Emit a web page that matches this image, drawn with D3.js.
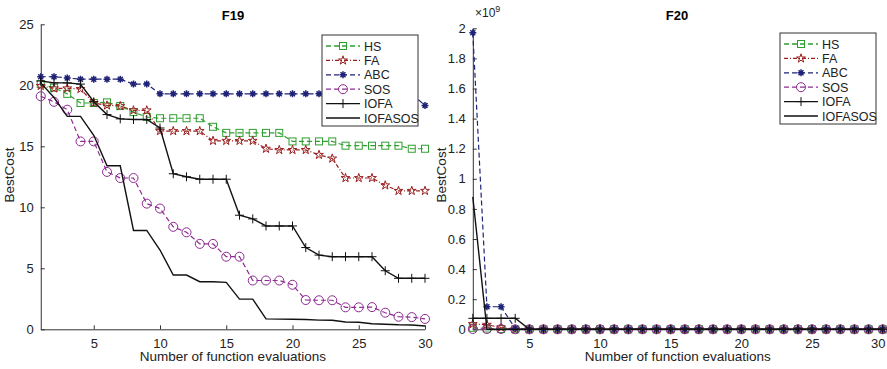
<!DOCTYPE html>
<html lang="en">
<head>
    <meta charset="UTF-8">
    <title>F19 / F20 convergence</title>
    <script src="https://d3js.org/d3.v7.min.js"></script>
    <style>
        body {
            margin: 0;
            background-color: #ffffff;
            font-family: "Liberation Sans", Arial, sans-serif;
        }
        svg {
            display: block;
        }
    </style>
</head>
<body>
    <div id="chart"></div>
    <script>
        const width = 887, height = 369;

        // x values (number of function evaluations)
        const evals = [1, 2, 3, 4, 5, 6, 7, 8, 9, 10, 11, 12, 13, 14, 15, 16, 17, 18, 19, 20, 21, 22, 23, 24, 25, 26, 27, 28, 29, 30];
        const seriesNames = ["HS", "FA", "ABC", "SOS", "IOFA", "IOFASOS"];

        // F19 best cost
        const hsF19 = [20.1, 19.8, 19.3, 18.55, 18.55, 18.6, 18.3, 17.8, 17.4, 17.3, 17.3, 17.3, 17.3, 16.6, 16.1, 16.1, 16.1, 16.1, 16.1, 15.4, 15.4, 15.4, 15.4, 15.05, 15.05, 15.05, 15.05, 15.05, 14.8, 14.8];
        const faF19 = [19.95, 19.75, 19.75, 19.7, 18.55, 18.35, 18.3, 17.95, 17.95, 16.25, 16.25, 16.25, 16.25, 15.45, 15.45, 15.45, 15.45, 14.8, 14.7, 14.7, 14.7, 14.3, 14.0, 12.4, 12.4, 12.4, 11.8, 11.35, 11.35, 11.35];
        const abcF19 = [20.7, 20.7, 20.6, 20.5, 20.5, 20.5, 20.5, 20.1, 20.1, 19.3, 19.3, 19.3, 19.3, 19.3, 19.3, 19.3, 19.3, 19.3, 19.3, 19.3, 19.3, 19.3, 19.3, 19.3, 19.3, 19.3, 19.3, 19.3, 19.3, 18.35];
        const sosF19 = [19.1, 18.65, 18.0, 15.4, 15.4, 12.9, 12.4, 12.4, 10.3, 9.9, 8.4, 7.95, 7.0, 7.0, 5.95, 5.95, 4.0, 4.0, 4.0, 3.65, 2.4, 2.38, 2.38, 1.8, 1.8, 1.82, 1.36, 1.03, 1.0, 0.85];
        const iofaF19 = [20.35, 20.2, 20.2, 20.1, 18.65, 17.6, 17.25, 17.2, 17.2, 16.5, 12.75, 12.5, 12.3, 12.3, 12.3, 9.35, 9.05, 8.47, 8.47, 8.47, 6.7, 6.08, 5.95, 5.95, 5.95, 5.95, 4.8, 4.18, 4.18, 4.18];
        const iofasosF19 = [20.2, 19.0, 17.45, 17.45, 15.9, 13.4, 13.4, 8.1, 8.1, 6.5, 4.45, 4.45, 3.9, 3.9, 3.85, 2.47, 2.47, 0.85, 0.83, 0.82, 0.8, 0.75, 0.74, 0.6, 0.58, 0.46, 0.42, 0.37, 0.35, 0.27];

        // F20 best cost (x 10^9)
        const hsF20 = [0.01, 0.005, 0.002, 0, 0, 0, 0, 0, 0, 0, 0, 0, 0, 0, 0, 0, 0, 0, 0, 0, 0, 0, 0, 0, 0, 0, 0, 0, 0, 0];
        const faF20 = [0.035, 0.03, 0.012, 0, 0, 0, 0, 0, 0, 0, 0, 0, 0, 0, 0, 0, 0, 0, 0, 0, 0, 0, 0, 0, 0, 0, 0, 0, 0, 0];
        const abcF20 = [1.97, 0.15, 0.15, 0.005, 0, 0, 0, 0, 0, 0, 0, 0, 0, 0, 0, 0, 0, 0, 0, 0, 0, 0, 0, 0, 0, 0, 0, 0, 0, 0];
        const sosF20 = [0.002, 0.002, 0.002, 0, 0, 0, 0, 0, 0, 0, 0, 0, 0, 0, 0, 0, 0, 0, 0, 0, 0, 0, 0, 0, 0, 0, 0, 0, 0, 0];
        const iofaF20 = [0.073, 0.073, 0.073, 0.073, 0, 0, 0, 0, 0, 0, 0, 0, 0, 0, 0, 0, 0, 0, 0, 0, 0, 0, 0, 0, 0, 0, 0, 0, 0, 0];
        const iofasosF20 = [0.88, 0, 0, 0, 0, 0, 0, 0, 0, 0, 0, 0, 0, 0, 0, 0, 0, 0, 0, 0, 0, 0, 0, 0, 0, 0, 0, 0, 0, 0];

        const xTicks = [5, 10, 15, 20, 25, 30];
        const yTicksF19 = [0, 5, 10, 15, 20, 25];
        const yTicksF20 = [0, 0.2, 0.4, 0.6, 0.8, 1, 1.2, 1.4, 1.6, 1.8, 2];

        // line look per series
        const styles = {
            HS:      { color: "#2e9e2e", dash: "5,3",     marker: "square" },
            FA:      { color: "#9a1e1e", dash: "4,2,1,2", marker: "star" },
            ABC:     { color: "#1e2378", dash: "5,3",     marker: "asterisk" },
            SOS:     { color: "#8e2a92", dash: "5,3",     marker: "circle" },
            IOFA:    { color: "#111111", dash: null,      marker: "plus" },
            IOFASOS: { color: "#111111", dash: null,      marker: null }
        };

        const svg = d3.select("#chart").append("svg")
            .attr("width", width)
            .attr("height", height);

        function drawMarker(g, type, x, y, color) {
            if (type === "square") {
                g.append("rect").attr("x", x - 3.5).attr("y", y - 3.5)
                    .attr("width", 7).attr("height", 7)
                    .attr("fill", "none").attr("stroke", color).attr("stroke-width", 1);
            } else if (type === "circle") {
                g.append("circle").attr("cx", x).attr("cy", y).attr("r", 4.5)
                    .attr("fill", "none").attr("stroke", color).attr("stroke-width", 1);
            } else if (type === "star") {
                g.append("path")
                    .attr("d", d3.symbol().type(d3.symbolStar).size(24)())
                    .attr("transform", `translate(${x},${y})`)
                    .attr("fill", "none").attr("stroke", color).attr("stroke-width", 1);
            } else if (type === "asterisk") {
                const r = 3.5;
                const p = d3.path();
                for (let k = 0; k < 4; k++) {
                    const a = k * Math.PI / 4;
                    p.moveTo(x - r * Math.cos(a), y - r * Math.sin(a));
                    p.lineTo(x + r * Math.cos(a), y + r * Math.sin(a));
                }
                g.append("path").attr("d", p.toString())
                    .attr("stroke", color).attr("stroke-width", 1.5).attr("fill", "none");
            } else if (type === "plus") {
                const r = 4.5;
                const p = d3.path();
                p.moveTo(x - r, y); p.lineTo(x + r, y);
                p.moveTo(x, y - r); p.lineTo(x, y + r);
                g.append("path").attr("d", p.toString())
                    .attr("stroke", color).attr("stroke-width", 1).attr("fill", "none");
            }
        }

        function drawPanel(cfg) {
            const x = d3.scaleLinear().domain([1, 30]).range([cfg.left, cfg.right]);
            const y = d3.scaleLinear().domain(cfg.yDomain).range([cfg.bottom, cfg.top]);
            const g = svg.append("g");

            // axes (ticks pointing inward)
            const xAxis = g.append("g")
                .attr("transform", `translate(0,${cfg.bottom})`)
                .call(d3.axisBottom(x).tickValues(xTicks).tickSizeInner(-4).tickSizeOuter(0).tickPadding(9));
            const yAxis = g.append("g")
                .attr("transform", `translate(${cfg.left},0)`)
                .call(d3.axisLeft(y).tickValues(cfg.yTicks).tickSizeInner(-4).tickSizeOuter(0).tickPadding(7)
                    .tickFormat(cfg.yFormat));
            [xAxis, yAxis].forEach(a => {
                a.selectAll("text").attr("font-size", 13).attr("fill", "#222")
                    .attr("font-family", "Liberation Sans, Arial, sans-serif");
                a.selectAll("line, path").attr("stroke", "#333");
            });
            // keep the last x label inside the window
            if (cfg.lastTickShift) {
                xAxis.selectAll(".tick text").filter(d => d === 30).attr("dx", cfg.lastTickShift);
            }

            // series
            const lineGen = d3.line().x((d, i) => x(evals[i])).y(d => y(d));
            cfg.series.forEach((vals, si) => {
                const st = styles[seriesNames[si]];
                g.append("path")
                    .datum(vals)
                    .attr("d", lineGen)
                    .attr("fill", "none")
                    .attr("stroke", st.color)
                    .attr("stroke-width", si >= 4 ? 1.4 : 1.2)
                    .attr("stroke-dasharray", st.dash);
                if (st.marker) {
                    vals.forEach((v, i) => drawMarker(g, st.marker, x(evals[i]), y(v), st.color));
                }
            });

            // title and axis labels
            g.append("text").attr("x", cfg.titleX).attr("y", 20)
                .attr("text-anchor", "middle").attr("font-weight", "bold")
                .attr("font-size", 13).text(cfg.title);
            g.append("text").attr("x", (cfg.left + cfg.right) / 2 + cfg.xlabShift).attr("y", 361)
                .attr("text-anchor", "middle").attr("font-size", 13.5).attr("fill", "#222")
                .text("Number of function evaluations");
            g.append("text")
                .attr("transform", `translate(${cfg.ylabX},175) rotate(-90)`)
                .attr("text-anchor", "middle").attr("font-size", 13.5).attr("fill", "#222")
                .text("BestCost");

            // legend
            const lg = g.append("g").attr("transform", `translate(${cfg.legX},${cfg.legY})`);
            lg.append("rect").attr("width", 96).attr("height", 91)
                .attr("fill", "#ffffff").attr("stroke", "#333").attr("stroke-width", 1);
            seriesNames.forEach((name, i) => {
                const st = styles[name];
                const ly = 11 + i * 14.4;
                lg.append("line").attr("x1", 4).attr("x2", 38).attr("y1", ly).attr("y2", ly)
                    .attr("stroke", st.color).attr("stroke-width", 1.3)
                    .attr("stroke-dasharray", st.dash);
                if (st.marker) drawMarker(lg, st.marker, 21, ly, st.color);
                lg.append("text").attr("x", 42).attr("y", ly + 4.5)
                    .attr("font-size", 12.5).attr("fill", "#222").text(name);
            });
            return g;
        }

        drawPanel({
            left: 40.75, right: 425, top: 24.3, bottom: 329.3,
            yDomain: [0, 25], yTicks: yTicksF19, yFormat: d3.format("d"),
            series: [hsF19, faF19, abcF19, sosF19, iofaF19, iofasosF19],
            title: "F19", titleX: 233, xlabShift: 0, ylabX: 14,
            legX: 322, legY: 35
        });

        const right = drawPanel({
            left: 472.8, right: 882.7, top: 28.3, bottom: 329.3,
            yDomain: [0, 2], yTicks: yTicksF20, yFormat: d => d === 0 ? "0" : d3.format("~g")(d),
            series: [hsF20, faF20, abcF20, sosF20, iofaF20, iofasosF20],
            title: "F20", titleX: 677, xlabShift: 0, ylabX: 446,
            legX: 780, legY: 33, lastTickShift: -5
        });

        // exponent label of the F20 axis
        const expo = right.append("text").attr("x", 475).attr("y", 17)
            .attr("font-size", 12).attr("fill", "#222");
        expo.append("tspan").text("\u00d710");
        expo.append("tspan").attr("dy", -5).attr("font-size", 9).text("9");
    </script>
</body>
</html>
